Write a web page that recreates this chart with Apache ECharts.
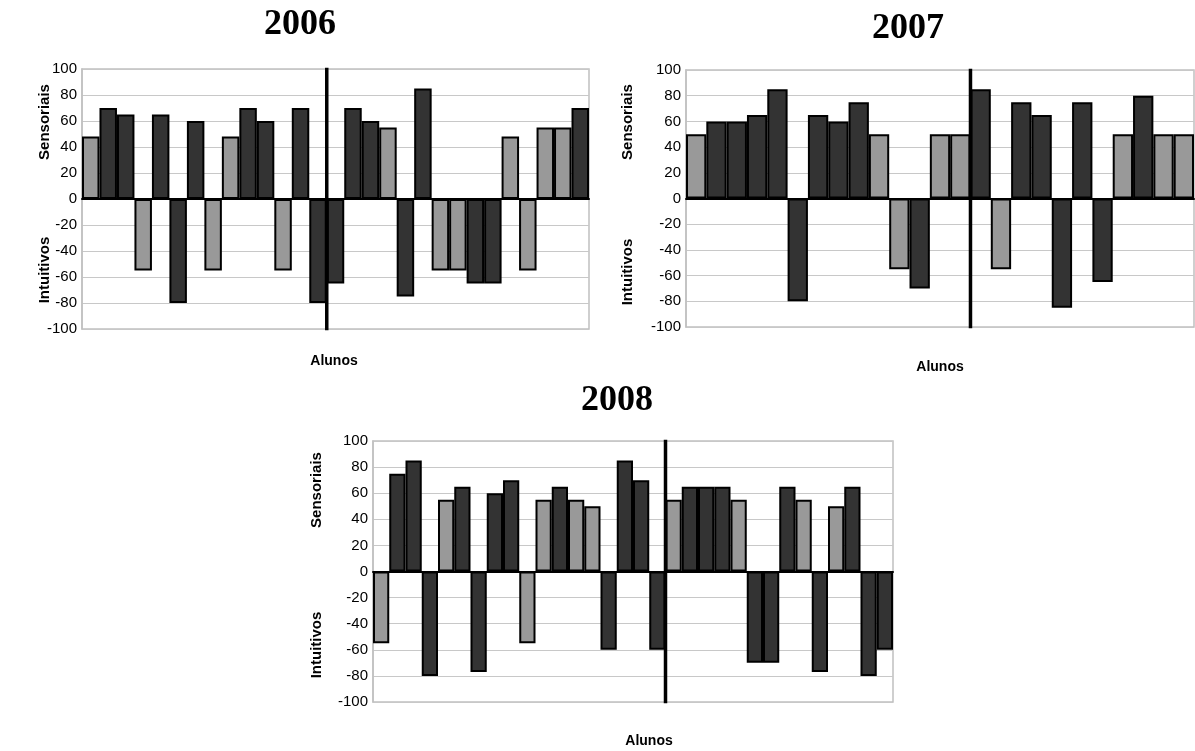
<!DOCTYPE html>
<html>
<head>
<meta charset="utf-8">
<script src="https://cdn.jsdelivr.net/npm/echarts@6/dist/echarts.min.js"></script>
<style>
html,body{margin:0;padding:0;background:#fff;}
#c{width:1195px;height:751px;}
</style>
</head>
<body>
<div id="c"></div>
<script>
// ---- DATA ----
const years = ['2006', '2007', '2008'];
const values2006 = [48, 70, 65, -55, 65, -80, 60, -55, 48, 70, 60, -55, 70, -80, -65, 70, 60, 55, -75, 85, -55, -55, -65, -65, 48, -55, 55, 55, 70];
const groups2006 = ['g','d','d','g','d','d','d','g','g','d','d','g','d','d','d','d','d','g','d','d','g','g','d','d','g','g','g','g','d'];
const values2007 = [50, 60, 60, 65, 85, -80, 65, 60, 75, 50, -55, -70, 50, 50, 85, -55, 75, 65, -85, 75, -65, 50, 80, 50, 50];
const groups2007 = ['g','d','d','d','d','d','d','d','d','g','g','d','g','g','d','g','d','d','d','d','d','g','d','g','g'];
const values2008 = [-55, 75, 85, -80, 55, 65, -77, 60, 70, -55, 55, 65, 55, 50, -60, 85, 70, -60, 55, 65, 65, 65, 55, -70, -70, 65, 55, -77, 50, 65, -80, -60];
const groups2008 = ['g','d','d','d','g','d','d','d','d','g','g','d','g','g','d','d','d','d','g','d','d','d','g','d','d','d','g','d','g','d','d','d'];
const dividerAfter = [14, 14, 18];   // number of students before the vertical divider
const yMin = -100, yMax = 100, yStep = 20;
const xAxisName = 'Alunos';
const upperName = 'Sensoriais';
const lowerName = 'Intuitivos';

// ---- LAYOUT / STYLE ----
const allValues = [values2006, values2007, values2008];
const allGroups = [groups2006, groups2007, groups2008];
const grids = [
  {left: 82, top: 69, width: 507, height: 260},
  {left: 686, top: 70, width: 508, height: 257},
  {left: 373, top: 441, width: 520, height: 261}
];
const groupColor = {g: '#999999', d: '#333333'};
const titlePos = [[300, 25], [908, 29], [617, 401]];
const alunosPos = [[334, 361], [940, 367], [649, 741]];
const sidePos = [[45, 122, 270], [628, 122, 272], [317, 490, 645]];

const chart = echarts.init(document.getElementById('c'), null, {renderer: 'canvas'});

const gridOpts = [], xAxes = [], yAxes = [], series = [], graphics = [];
grids.forEach((g, i) => {
  const vals = allValues[i], grp = allGroups[i];
  gridOpts.push({left: g.left, top: g.top, width: g.width, height: g.height,
    show: true, borderColor: '#c0c0c0', borderWidth: 1.5, containLabel: false});
  // category axis for bars
  xAxes.push({type: 'category', gridIndex: i, data: vals.map((v, k) => String(k + 1)),
    boundaryGap: true,
    axisLine: {show: true, onZero: true, lineStyle: {color: '#000', width: 2}},
    axisTick: {show: false}, axisLabel: {show: false}, splitLine: {show: false}, z: 5});
  // hidden value axis for the divider
  xAxes.push({type: 'value', gridIndex: i, min: 0, max: vals.length, show: false});
  yAxes.push({type: 'value', gridIndex: i, min: yMin, max: yMax, interval: yStep,
    axisLine: {show: true, lineStyle: {color: '#c0c0c0', width: 1.5}},
    axisTick: {show: false},
    axisLabel: {color: '#000', fontSize: 15, fontFamily: 'Liberation Sans, Arial, sans-serif', margin: 5},
    splitLine: {show: true, lineStyle: {color: '#c8c8c8', width: 1.2}}});
  series.push({type: 'bar', xAxisIndex: 2 * i, yAxisIndex: i,
    barWidth: '100%', barCategoryGap: '0%',
    data: vals.map((v, k) => ({value: v, itemStyle: {color: groupColor[grp[k]]}})),
    itemStyle: {borderColor: '#000', borderWidth: 2},
    emphasis: {disabled: true}, silent: true, z: 3});
  series.push({type: 'line', xAxisIndex: 2 * i + 1, yAxisIndex: i,
    data: [[dividerAfter[i], yMin - 1], [dividerAfter[i], yMax + 1]],
    clip: false, symbol: 'none', silent: true,
    lineStyle: {color: '#000', width: 3.5}, z: 10});
  graphics.push({type: 'text', x: titlePos[i][0], y: titlePos[i][1],
    style: {text: years[i], font: 'bold 36px "Liberation Serif", "Times New Roman", serif',
      fill: '#000', textAlign: 'center', textVerticalAlign: 'middle'}});
  graphics.push({type: 'text', x: alunosPos[i][0], y: alunosPos[i][1],
    style: {text: xAxisName, font: 'bold 14px "Liberation Sans", Arial, sans-serif',
      fill: '#000', textAlign: 'center', textVerticalAlign: 'middle'}});
  graphics.push({type: 'text', x: sidePos[i][0], y: sidePos[i][1], rotation: Math.PI / 2,
    style: {text: upperName, font: 'bold 15px "Liberation Sans", Arial, sans-serif',
      fill: '#000', textAlign: 'center', textVerticalAlign: 'middle'}});
  graphics.push({type: 'text', x: sidePos[i][0], y: sidePos[i][2], rotation: Math.PI / 2,
    style: {text: lowerName, font: 'bold 15px "Liberation Sans", Arial, sans-serif',
      fill: '#000', textAlign: 'center', textVerticalAlign: 'middle'}});
});

chart.setOption({
  animation: false,
  backgroundColor: '#fff',
  grid: gridOpts,
  xAxis: xAxes,
  yAxis: yAxes,
  series: series,
  graphic: graphics
});
</script>
</body>
</html>
